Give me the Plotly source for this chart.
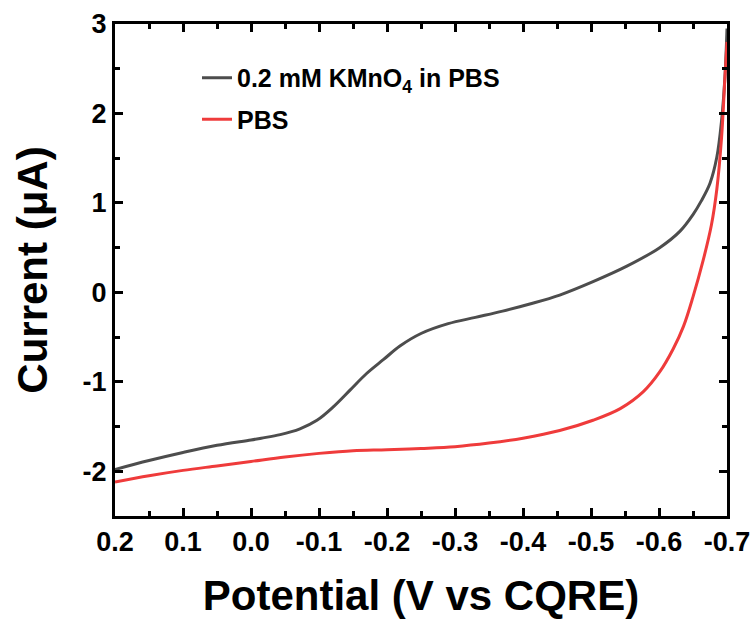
import plotly.graph_objects as go

# Data
kmno4_x = [0.2, 0.15, 0.1, 0.05, 0.0, -0.015, -0.043, -0.072, -0.097, -0.121, -0.146,
           -0.17, -0.195, -0.219, -0.25, -0.29, -0.33, -0.37, -0.41, -0.454, -0.503,
           -0.552, -0.601, -0.631, -0.65, -0.662, -0.675, -0.685, -0.692, -0.697, -0.7]
kmno4_y = [-1.98, -1.88, -1.79, -1.71, -1.65, -1.63, -1.59, -1.525, -1.43, -1.28, -1.09,
           -0.907, -0.75, -0.60, -0.46, -0.35, -0.28, -0.21, -0.13, -0.03, 0.12,
           0.29, 0.50, 0.685, 0.87, 1.02, 1.22, 1.51, 1.92, 2.41, 2.95]

pbs_x = [0.2, 0.15, 0.1, 0.05, 0.0, -0.05, -0.1, -0.15, -0.2, -0.25, -0.3, -0.35, -0.4,
         -0.454, -0.503, -0.543, -0.577, -0.601, -0.621, -0.636, -0.65, -0.665, -0.677,
         -0.685, -0.692, -0.697, -0.7]
pbs_y = [-2.12, -2.05, -1.99, -1.94, -1.89, -1.84, -1.80, -1.77, -1.76, -1.745, -1.725, -1.685,
         -1.63, -1.545, -1.43, -1.30, -1.11, -0.89, -0.63, -0.38, -0.05, 0.36, 0.75,
         1.15, 1.73, 2.41, 2.8]

x_tickvals = [0.2, 0.1, 0.0, -0.1, -0.2, -0.3, -0.4, -0.5, -0.6, -0.7]
x_ticktext = ["0.2", "0.1", "0.0", "-0.1", "-0.2", "-0.3", "-0.4", "-0.5", "-0.6", "-0.7"]
y_tickvals = [-2, -1, 0, 1, 2, 3]
y_ticktext = ["-2", "-1", "0", "1", "2", "3"]

FONT = "Liberation Sans, Arial, sans-serif"

fig = go.Figure()
fig.add_trace(go.Scatter(x=kmno4_x, y=kmno4_y, mode="lines",
                         line=dict(color="#4d4d4d", width=3, shape="spline", smoothing=1.0),
                         name="0.2 mM KMnO<sub>4</sub> in PBS", legendgroup="a"))
fig.add_trace(go.Scatter(x=pbs_x, y=pbs_y, mode="lines",
                         line=dict(color="#ef3b3b", width=3, shape="spline", smoothing=1.0),
                         name="PBS", legendgroup="b"))

axis_common = dict(
    showline=True, linecolor="black", linewidth=3, mirror="ticks",
    ticks="inside", ticklen=8, tickwidth=3, tickcolor="black",
    showgrid=False, zeroline=False, automargin=False,
    tickfont=dict(family=FONT, size=27, color="black", weight="bold"),
)

fig.update_xaxes(range=[0.2, -0.7], tickvals=x_tickvals, ticktext=x_ticktext,
                 minor=dict(ticks="inside", ticklen=5, tickwidth=3, tickcolor="black", dtick=0.05, tick0=0),
                 title=dict(text="Potential (V vs CQRE)",
                            font=dict(family=FONT, size=42, color="black", weight="bold"),
                            standoff=26),
                 **axis_common)
fig.update_yaxes(range=[-2.5, 3], tickvals=y_tickvals, ticktext=y_ticktext,
                 minor=dict(ticks="inside", ticklen=5, tickwidth=3, tickcolor="black", dtick=0.5, tick0=0),
                 title=dict(text="Current (μA)",
                            font=dict(family=FONT, size=42, color="black", weight="bold"),
                            standoff=22),
                 **axis_common)

fig.update_layout(
    width=756, height=619,
    margin=dict(l=115, r=29, t=24, b=103),
    plot_bgcolor="white", paper_bgcolor="white",
    legend=dict(x=0.134, y=0.937, xanchor="left", yanchor="top",
                bgcolor="rgba(0,0,0,0)", tracegroupgap=6,
                font=dict(family=FONT, size=25, color="black", weight="bold")),
)

fig.write_html("out.html")
